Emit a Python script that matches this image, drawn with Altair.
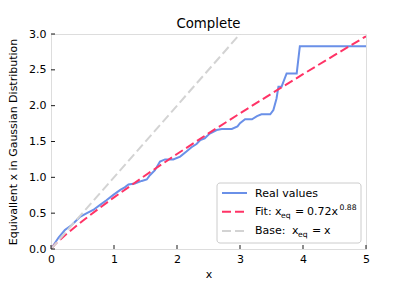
import altair as alt
import pandas as pd

# Real values
real_x = [0, 0.12, 0.22, 0.33, 0.46, 0.57, 0.67, 0.78, 0.88, 0.99, 1.10, 1.17, 1.23, 1.33, 1.44,
          1.52, 1.57, 1.65, 1.73, 1.81, 1.94, 2.05, 2.15, 2.23, 2.31, 2.37, 2.44, 2.52, 2.63,
          2.71, 2.87, 2.96, 3.00, 3.08, 3.19, 3.27, 3.34, 3.48, 3.53, 3.58, 3.61, 3.66, 3.74,
          3.90, 3.95, 5.0]
real_y = [0, 0.16, 0.265, 0.335, 0.45, 0.50, 0.545, 0.615, 0.68, 0.755, 0.825, 0.86, 0.90, 0.915,
          0.95, 0.97, 1.03, 1.10, 1.22, 1.25, 1.25, 1.29, 1.36, 1.42, 1.465, 1.52, 1.545, 1.61,
          1.66, 1.675, 1.675, 1.71, 1.755, 1.81, 1.81, 1.855, 1.88, 1.88, 1.94, 2.10, 2.265,
          2.265, 2.45, 2.45, 2.83, 2.83]

# Fit curve
fit_x = [0, 0.05, 0.1, 0.25, 0.5, 0.75, 1, 1.5, 2, 2.5, 3, 3.5, 4, 4.5, 5]
fit_y = [0, 0.052, 0.095, 0.213, 0.391, 0.559, 0.72, 1.029, 1.325, 1.613, 1.893, 2.168, 2.439,
         2.705, 2.968]

# Base line
base_x = [0, 3]
base_y = [0, 3]

x_ticks = [0, 1, 2, 3, 4, 5]
y_ticks = [0, 0.5, 1.0, 1.5, 2.0, 2.5, 3.0]

W, H = 315, 215
FONT = "DejaVu Sans"
BLUE = "#6a90e8"
RED = "#ff3366"
GRAY = "#d3d3d3"

xs = alt.Scale(domain=[0, 5], nice=False, zero=False)
ys = alt.Scale(domain=[0, 3], nice=False, zero=False)

xaxis = alt.Axis(values=x_ticks, format="d", ticks=False, grid=False, domain=False,
                 labelFontSize=11, labelFont=FONT, labelColor="black", labelPadding=4,
                 title="x", titleFont=FONT, titleFontSize=11, titleFontWeight="normal",
                 titleColor="black", titleX=W / 2, titleY=25, titleBaseline="middle",
                 titleAlign="center", labelFlush=False, labelOverlap=False)
yaxis = alt.Axis(values=y_ticks, format=".1f", ticks=False, grid=False, domain=False,
                 labelFontSize=11, labelFont=FONT, labelColor="black", labelPadding=5,
                 title="Equivallent x in Gaussian Distribution", titleFont=FONT,
                 titleFontSize=11, titleFontWeight="normal", titleColor="black",
                 titleX=-37.5, titleY=H / 2, titleAngle=-90, titleBaseline="middle",
                 titleAlign="center", labelFlush=False, labelOverlap=False)

X = alt.X("x:Q", scale=xs, axis=xaxis)
Y = alt.Y("y:Q", scale=ys, axis=yaxis)

real = alt.Chart(pd.DataFrame({"x": real_x, "y": real_y})).mark_line(
    color=BLUE, strokeWidth=2, clip=True).encode(x=X, y=Y)
fit = alt.Chart(pd.DataFrame({"x": fit_x, "y": fit_y})).mark_line(
    color=RED, strokeWidth=2, strokeDash=[9, 4], clip=True).encode(x=X, y=Y)
base = alt.Chart(pd.DataFrame({"x": base_x, "y": base_y})).mark_line(
    color=GRAY, strokeWidth=2, strokeDash=[9, 4], clip=True).encode(x=X, y=Y)

# inward ticks
xt = alt.Chart(pd.DataFrame({"x": x_ticks})).mark_rule(color="black", strokeWidth=0.9).encode(
    x=X, y=alt.value(H - 4), y2=alt.value(H))
yt = alt.Chart(pd.DataFrame({"y": y_ticks})).mark_rule(color="black", strokeWidth=0.9).encode(
    y=Y, x=alt.value(0), x2=alt.value(4))

one = pd.DataFrame({"a": [0]})

legend_box = alt.Chart(one).mark_rect(
    fill="white", fillOpacity=0.8, stroke="#cccccc", strokeWidth=1, cornerRadius=3).encode(
    x=alt.value(166), x2=alt.value(310), y=alt.value(149), y2=alt.value(209))

h_real = alt.Chart(one).mark_rule(color=BLUE, strokeWidth=2).encode(
    x=alt.value(171), x2=alt.value(196), y=alt.value(159))
h_fit = alt.Chart(one).mark_rule(color=RED, strokeWidth=2, strokeDash=[9, 4]).encode(
    x=alt.value(171), x2=alt.value(196), y=alt.value(177.7))
h_base = alt.Chart(one).mark_rule(color=GRAY, strokeWidth=2, strokeDash=[9, 4]).encode(
    x=alt.value(171), x2=alt.value(196), y=alt.value(197))


def txt(s, x, y, size=11, align="left"):
    return alt.Chart(one).mark_text(
        align=align, baseline="alphabetic", font=FONT, fontSize=size,
        color="black").encode(x=alt.value(x), y=alt.value(y), text=alt.value(s))


labels = [
    txt("Complete", W / 2, -6, size=13.3, align="center"),
    txt("Real values", 204, 162.5),
    txt("Fit:", 204, 181),
    txt("x", 224, 181),
    txt("eq", 230, 183.5, size=7.7),
    txt("=", 244, 181),
    txt("0.72x", 256, 181),
    txt("0.88", 288.5, 175.7, size=7.7),
    txt("Base:", 204, 200),
    txt("x", 241, 200),
    txt("eq", 247, 202.5, size=7.7),
    txt("=", 261, 200),
    txt("x", 273, 200),
]

chart = alt.layer(real, fit, base, xt, yt, legend_box, h_real, h_fit, h_base, *labels).properties(
    width=W, height=H,
    autosize=alt.AutoSizeParams(type="none"),
    padding={"left": 43, "top": 26, "right": 10, "bottom": 30},
).configure_view(stroke="black", strokeWidth=1).configure(background="white")

chart.save("out.html", embed_options={"renderer": "svg", "actions": False})
